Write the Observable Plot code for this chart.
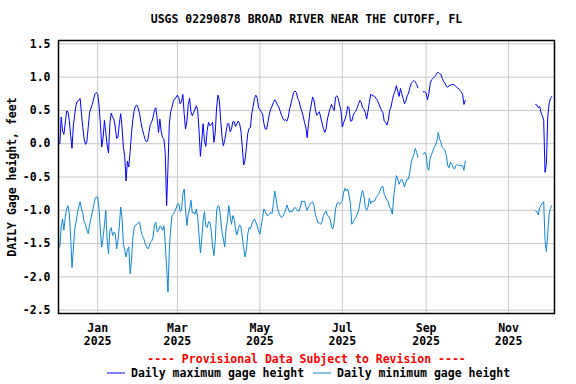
<!DOCTYPE html>
<html><head><meta charset="utf-8">
<script src="https://cdn.jsdelivr.net/npm/d3@7"></script>
<script src="https://cdn.jsdelivr.net/npm/@observablehq/plot@0.6"></script>
<style>body{margin:0;background:#fff}</style>
</head><body><div id="chart"></div>
<script>
const title = "USGS 02290878 BROAD RIVER NEAR THE CUTOFF, FL";
const yLabel = "DAILY Gage height, feet";
const provisional = "---- Provisional Data Subject to Revision ----";
const seriesNames = ["Daily maximum gage height", "Daily minimum gage height"];
const seriesColors = ["#0000ff", "#0a86d6"];
const xDomain = ["2024-12-03", "2025-12-05"];
const xTicks = ["2025-01-01", "2025-03-01", "2025-05-01", "2025-07-01", "2025-09-01", "2025-11-01"];
const yTicks = [-2.5, -2.0, -1.5, -1.0, -0.5, 0.0, 0.5, 1.0, 1.5];
const yDomain = [-2.55, 1.55];

// daily values, each segment starts at the date in segmentStarts
const segmentStarts = ["2024-12-04", "2025-08-30", "2025-11-21"];

const maxA = [
  0.00,0.40,0.19,0.14,0.31,0.49,0.48,0.35,0.12,-0.07,0.27,0.44,0.58,0.64,0.65,0.68,0.45,0.24,0.07,-0.01,0.03,0.25,0.47,0.53,0.59,0.67,0.75,0.77,
  0.74,0.58,0.30,-0.05,0.09,0.35,0.17,-0.02,-0.14,0.30,
  0.46,0.40,0.37,0.25,0.08,0.10,0.30,0.45,0.25,-0.05,
  -0.19,-0.56,-0.26,-0.35,-0.12,0.15,0.36,0.50,0.57,0.58,
  0.53,0.45,0.32,0.22,0.14,0.07,0.03,0.04,0.18,0.29,
  0.33,0.40,0.50,0.54,0.38,0.17,0.37,0.18,0.09,0.07,
  -0.15,-0.93,-0.35,0.30,0.48,0.55,0.64,0.67,0.70,0.73,
  0.69,0.60,0.63,0.74,0.45,0.22,0.34,0.59,0.68,0.48,
  0.42,0.47,0.52,0.57,0.50,0.19,-0.19,0.04,0.30,0.04,
  -0.04,0.20,0.32,0.27,0.29,0.32,0.02,0.17,0.55,0.73,
  0.65,
  0.35,0.10,-0.03,0.05,0.18,0.30,0.30,0.18,0.22,
  0.33,0.33,0.26,0.30,0.34,0.30,0.19,-0.05,-0.32,-0.25,
  -0.06,0.15,0.23,0.24,0.45,0.56,0.68,0.73,0.69,0.54,
  0.51,0.48,0.45,0.30,0.22,0.22,0.33,0.44,0.52,0.56,
  0.62,0.66,0.63,0.58,0.55,0.49,0.43,0.38,0.35,0.36,
  0.34,0.40,0.52,0.60,0.69,0.77,0.79,0.77,0.68,0.64,
  0.55,0.49,0.42,0.32,0.25,0.09,0.30,0.48,0.58,0.70,
  0.66,0.52,0.43,0.45,0.48,0.40,0.31,0.23,0.17,0.22,
  0.37,0.46,0.53,0.59,0.54,0.50,0.70,0.72,0.68,0.58,
  0.50,0.25,0.32,0.37,0.44,0.56,0.54,0.34,0.34,0.42,
  0.47,0.49,0.54,0.60,0.65,0.62,0.54,0.52,0.47,0.37,
  0.49,0.62,0.74,0.73,0.72,0.71,0.68,0.65,0.60,0.55,
  0.50,0.47,0.34,
  0.32,0.28,0.35,0.50,0.55,0.65,0.74,0.79,0.87,0.79,0.71,0.83,0.75,0.68,0.60,0.64,0.72,0.76,0.84,0.91,0.93,0.95,0.93,0.89,0.84
];
const maxB = [0.78,0.78,0.76,0.66,0.75,0.90,0.96,0.98,1.00,1.02,1.06,1.07,1.05,1.04,0.98,0.93,0.91,0.86,0.85,0.87,0.88,0.89,0.89,0.88,0.86,0.84,0.83,0.80,0.78,0.74,0.59,0.65];
const maxC = [0.59,0.58,0.54,0.56,0.47,0.42,0.35,-0.43,-0.30,0.40,0.60,0.68,0.71];

const minA = [
  -1.55,-1.25,-1.13,-1.30,-1.10,-0.98,-0.93,-1.05,-1.40,-1.86,-1.58,-1.28,-1.18,-1.04,-0.95,-0.87,-0.98,-1.05,-1.17,-1.21,-1.30,-1.35,-1.22,-1.12,-1.03,-0.93,-0.83,-0.80,
  -0.80,-0.98,-1.31,-1.55,-1.41,-1.22,-1.00,-1.45,-1.65,-1.30,
  -1.26,-1.38,-1.33,-1.35,-1.58,-1.45,-1.25,-0.95,-1.11,-1.50,
  -1.60,-1.70,-1.60,-1.55,-1.95,-1.75,-1.42,-1.26,-1.22,-1.21,
  -1.19,-1.18,-1.30,-1.38,-1.42,-1.49,-1.54,-1.58,-1.55,-1.48,
  -1.46,-1.40,-1.22,-1.18,-1.32,-1.30,-1.24,-1.25,-1.30,-1.23,
  -1.50,-1.85,-2.23,-1.60,-1.28,-1.08,-1.06,-1.02,-0.97,-0.91,
  -0.90,-1.02,-1.00,-0.75,-0.68,-1.00,-1.23,-1.06,-0.98,-0.85,
  -1.04,-1.03,-1.06,-0.98,-1.10,-1.38,-1.64,-1.43,-1.16,-1.02,
  -1.24,-1.26,-1.17,-1.18,-1.30,-1.55,-1.68,-1.45,-1.00,-0.93,
  -0.95,
  -1.13,-1.33,-1.43,-1.55,-1.28,-1.15,-0.93,-1.08,-1.21,
  -1.08,-1.14,-1.28,-1.37,-1.28,-1.22,-1.25,-1.40,-1.56,-1.70,
  -1.60,-1.36,-1.26,-1.28,-1.21,-1.16,-1.13,-1.18,-1.23,-1.31,
  -1.36,-1.24,-1.11,-0.98,-1.02,-1.07,-1.08,-1.06,-1.03,-1.05,
  -0.90,-0.71,-0.82,-0.97,-1.03,-1.08,-1.11,-1.09,-1.05,-1.00,
  -0.92,-0.98,-1.03,-1.01,-1.02,-0.97,-0.96,-0.98,-1.01,-1.01,
  -0.95,-0.86,-0.87,-0.86,-0.94,-1.00,-0.95,-0.91,-0.89,-0.87,
  -0.92,-1.06,-1.12,-1.19,-1.19,-1.21,-1.17,-1.08,-1.04,-1.01,
  -1.08,-1.09,-1.14,-1.25,-1.28,-1.18,-0.98,-0.90,-0.88,-0.91,
  -0.88,-0.86,-0.73,-0.67,-0.71,-0.68,-0.78,-0.90,-1.21,-1.18,
  -1.13,-1.11,-1.06,-1.01,-0.90,-0.77,-0.70,-0.78,-0.96,-1.00,
  -0.95,-0.82,-0.90,-0.86,-0.87,-0.86,-0.81,-0.78,-0.75,-0.70,
  -0.65,-0.64,-0.76,
  -0.80,-0.85,-0.87,-0.95,-0.98,-1.06,-0.80,-0.64,-0.48,-0.53,-0.61,-0.56,-0.53,-0.58,-0.65,-0.58,-0.53,-0.53,-0.42,-0.28,-0.21,-0.16,-0.07,-0.13,-0.20
];
const minB = [-0.16,-0.13,-0.16,-0.36,-0.40,-0.22,-0.16,-0.11,-0.05,-0.02,0.04,0.17,0.07,0.02,-0.06,-0.08,-0.10,-0.18,-0.33,-0.36,-0.28,-0.31,-0.36,-0.38,-0.33,-0.31,-0.33,-0.33,-0.33,-0.33,-0.40,-0.26];
const minC = [-1.01,-1.02,-1.07,-0.96,-0.93,-0.89,-0.87,-1.45,-1.62,-1.35,-1.06,-0.97,-0.93];

const seriesSegments = [
  [seriesNames[0], [maxA, maxB, maxC]],
  [seriesNames[1], [minA, minB, minC]]
];
const rows = [];
for (const [name, segs] of seriesSegments) {
  segs.forEach((vals, s) => {
    const start = new Date(segmentStarts[s] + "T00:00:00Z");
    vals.forEach((v, i) => rows.push({date: d3.utcDay.offset(start, i), value: v, series: name, key: name + s}));
  });
}

const font = "'DejaVu Sans Mono', monospace";
const chart = Plot.plot({
  width: 576, height: 384,
  marginTop: 40, marginBottom: 71, marginLeft: 58, marginRight: 22,
  style: {fontFamily: font, fontSize: "11.5px", fontWeight: "bold", color: "black", background: "white"},
  x: {type: "utc", domain: xDomain.map(d => new Date(d + "T00:00:00Z")), label: null},
  y: {domain: yDomain, label: null},
  color: {domain: seriesNames, range: seriesColors},
  marks: [
    Plot.gridX(xTicks.map(d => new Date(d + "T00:00:00Z")), {stroke: "#c8c8c8", strokeOpacity: 1, strokeWidth: 1}),
    Plot.gridY(yTicks, {stroke: "#c8c8c8", strokeOpacity: 1, strokeWidth: 1}),
    Plot.line(rows, {x: "date", y: "value", z: "key", stroke: "series", strokeWidth: 1}),
    Plot.frame({stroke: "black", strokeWidth: 1.5}),
    Plot.axisX(xTicks.map(d => new Date(d + "T00:00:00Z")), {tickSize: 0, tickPadding: 10, tickFormat: d3.utcFormat("%b\n%Y"), label: null, lineHeight: 1.1}),
    Plot.axisY(yTicks, {tickSize: 0, tickPadding: 8, tickFormat: v => v.toFixed(1), label: null}),
    Plot.text([title], {text: d => d, frameAnchor: "top", lineAnchor: "middle", textAnchor: "middle", dy: -21, fill: "black"}),
    Plot.text([yLabel], {text: d => d, frameAnchor: "left", lineAnchor: "middle", textAnchor: "middle", dx: -46.5, rotate: -90, fill: "black"}),
    Plot.text([provisional], {text: d => d, frameAnchor: "bottom", lineAnchor: "middle", textAnchor: "middle", dy: 46, fill: "#ff0000"})
  ]
});

// legend row
const svg = d3.select(chart);
const legendY = 373;
const legendItems = [
  {name: seriesNames[0], color: seriesColors[0], x: 107},
  {name: seriesNames[1], color: seriesColors[1], x: 313}
];
for (const it of legendItems) {
  svg.append("line").attr("x1", it.x).attr("x2", it.x + 18).attr("y1", legendY).attr("y2", legendY)
    .attr("stroke", it.color).attr("stroke-width", 1);
  svg.append("text").attr("x", it.x + 24).attr("y", legendY).attr("dy", "0.35em")
    .attr("text-anchor", "start")
    .attr("fill", "black").style("font-family", font).style("font-size", "11.5px").style("font-weight", "bold")
    .text(it.name);
}
document.getElementById("chart").append(chart);
</script>
</body></html>
